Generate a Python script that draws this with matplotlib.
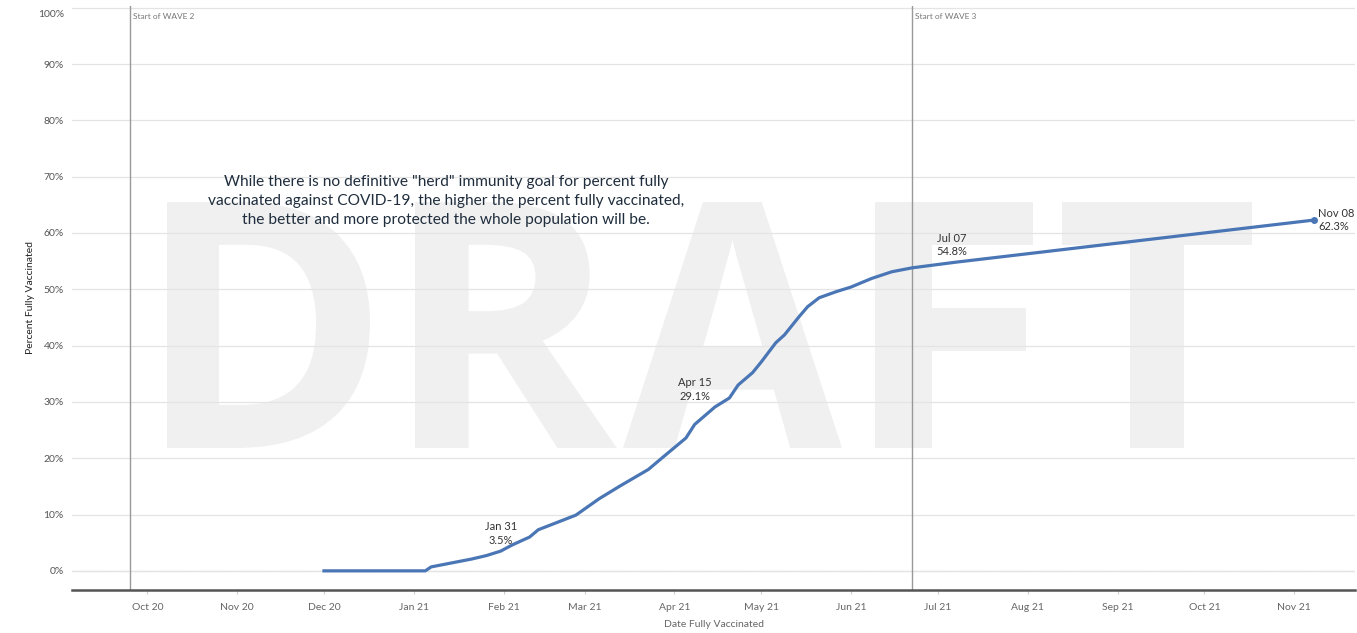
import matplotlib
matplotlib.use('Agg')
import pandas as pd
import matplotlib.pyplot as plt
from matplotlib.textpath import TextPath
from matplotlib.font_manager import FontProperties
from matplotlib.patches import PathPatch
from matplotlib.transforms import Affine2D

# cumulative percent fully vaccinated
dates = ["2020-12-01", "2021-01-05", "2021-01-07", "2021-01-11", "2021-01-16",
         "2021-01-21", "2021-01-26", "2021-01-31", "2021-02-04", "2021-02-10",
         "2021-02-13", "2021-02-19", "2021-02-26", "2021-03-06", "2021-03-13",
         "2021-03-23", "2021-03-29", "2021-04-05", "2021-04-08", "2021-04-15",
         "2021-04-20", "2021-04-23", "2021-04-28", "2021-05-01", "2021-05-06",
         "2021-05-09", "2021-05-14", "2021-05-17", "2021-05-21", "2021-05-27",
         "2021-06-01", "2021-06-08", "2021-06-15", "2021-06-22", "2021-07-07",
         "2021-11-08"]
pct = [0.0, 0.0, 0.7, 1.1, 1.6,
       2.1, 2.7, 3.5, 4.6, 6.0,
       7.3, 8.5, 9.9, 12.8, 15.0,
       18.0, 20.6, 23.6, 26.0, 29.1,
       30.7, 33.0, 35.2, 37.1, 40.5,
       41.9, 45.1, 46.9, 48.5, 49.6,
       50.4, 51.9, 53.1, 53.8, 54.8,
       62.3]

callout_dates = ["2021-01-31", "2021-04-15", "2021-07-07", "2021-11-08"]
callout_vals = [3.5, 29.1, 54.8, 62.3]
callout_names = ["Jan 31", "Apr 15", "Jul 07", "Nov 08"]

wave_dates = ["2020-09-25", "2021-06-22"]
wave_names = ["Start of WAVE 2", "Start of WAVE 3"]

y_ticks = list(range(0, 101, 10))
y_labels = [f"{v}%" for v in y_ticks]

note = ('While there is no definitive "herd" immunity goal for percent fully\n'
        'vaccinated against COVID-19, the higher the percent fully vaccinated,\n'
        'the better and more protected the whole population will be.')

plt.rcParams['font.family'] = ['Lato', 'DejaVu Sans']

W, H = 1357, 633
AX_L, AX_R, AX_T, AX_B = 72, 1355, 6, 590

x = pd.to_datetime(dates)
fig = plt.figure(figsize=(W / 100, H / 100), dpi=100)
ax = fig.add_axes([AX_L / W, 1 - AX_B / H, (AX_R - AX_L) / W, (AX_B - AX_T) / H])


def px_box(l, r, t, b):
    # pixel box -> axes fraction
    return ((l - AX_L) / (AX_R - AX_L), (r - AX_L) / (AX_R - AX_L),
            (AX_B - b) / (AX_B - AX_T), (AX_B - t) / (AX_B - AX_T))


# DRAFT watermark, letter by letter
fp = FontProperties(family='Open Sans', weight='bold')
letter_boxes = [("D", 167, 370), ("R", 415, 617), ("A", 623, 842),
                ("F", 875, 1033), ("T", 1062, 1252)]
for ch, l, r in letter_boxes:
    tp = TextPath((0, 0), ch, prop=fp)
    ext = tp.get_extents()
    x0, x1, y0, y1 = px_box(l, r, 202, 448)
    tr = (Affine2D().translate(-ext.x0, -ext.y0)
          .scale((x1 - x0) / ext.width, (y1 - y0) / ext.height)
          .translate(x0, y0))
    ax.add_patch(PathPatch(tr.transform_path(tp), transform=ax.transAxes,
                           facecolor='#f0f0f0', edgecolor='none', zorder=0))

ax.set_ylim(-3.4, 100.3)
ax.set_xlim(pd.Timestamp("2020-09-05"), pd.Timestamp("2021-11-22"))

# top label sits a little below its gridline, as in the original
ax.set_yticks(y_ticks)
ax.set_yticklabels(y_labels[:-1] + [""])
ax.annotate(y_labels[-1], xy=(0, y_ticks[-1]), xycoords=('axes fraction', 'data'),
            xytext=(-8, -7), textcoords='offset pixels', ha='right', va='center',
            fontsize=7.5, color='#555555')
ax.yaxis.grid(True, color='#e4e4e4', lw=0.9, zorder=1)
ax.axhline(0, color='#bbbbbb', lw=0.9, ls=(0, (1, 1)), zorder=1)

months = pd.date_range("2020-10-01", "2021-11-01", freq="MS")
ax.set_xticks(months)
ax.set_xticklabels([m.strftime("%b %y") for m in months])

for s in ['top', 'right', 'left']:
    ax.spines[s].set_visible(False)
ax.spines['bottom'].set_color('#555555')
ax.spines['bottom'].set_linewidth(1.8)
ax.tick_params(axis='y', length=0, labelsize=7.5, labelcolor='#555555', pad=6)
ax.tick_params(axis='x', length=3, color='#cccccc', labelsize=7.5,
               labelcolor='#666666', pad=6)
ax.patch.set_alpha(0)

for d, name in zip(wave_dates, wave_names):
    xd = pd.Timestamp(d)
    ax.axvline(xd, color='#999999', lw=1, zorder=2)
    ax.text(xd + pd.Timedelta(days=1), 99.0, name, fontsize=6, color='#777777',
            va='top', ha='left')

ax.plot(x, pct, color='#4a76b5', lw=2.3, zorder=3)
ax.plot(pd.Timestamp(dates[-1]), pct[-1], 'o', color='#4a76b5', ms=4, zorder=4)

offsets = [(0, 5, 'center', 'bottom'), (-20, 5, 'center', 'bottom'),
           (-4, 5, 'center', 'bottom'), (4, 0, 'left', 'center')]
for d, v, name, (dx, dy, ha, va) in zip(callout_dates, callout_vals, callout_names, offsets):
    ax.annotate(f"{name}\n{v}%", (pd.Timestamp(d), v), xytext=(dx, dy),
                textcoords='offset pixels', ha=ha, va=va, fontsize=8,
                color='#333333', linespacing=1.3, zorder=5)

nx0, nx1, ny0, ny1 = px_box(446, 446, 201, 201)
ax.text(nx0, ny0, note, transform=ax.transAxes,
        ha='center', va='center', fontsize=11.2, color='#1f2d3d',
        linespacing=1.42, zorder=5)

ax.set_xlabel("Date Fully Vaccinated", fontsize=7.5, color='#666666', labelpad=6)
ax.set_ylabel("Percent Fully Vaccinated", fontsize=7.5, color='#222222', labelpad=6)

fig.savefig("out.png", dpi=100)
